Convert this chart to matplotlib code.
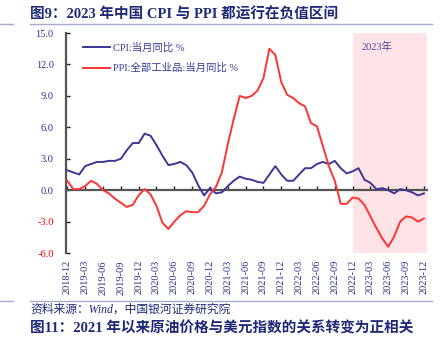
import numpy as np
import pandas as pd
import matplotlib
matplotlib.use("Agg")
import matplotlib.pyplot as plt
from matplotlib.lines import Line2D

plt.rcParams['font.family'] = ['Liberation Serif', 'Noto Sans CJK SC']

# monthly data, 2018-12 .. 2023-12
months = pd.date_range("2018-12-01", periods=61, freq="MS").strftime("%Y-%m").tolist()
cpi = [1.9,
       1.7, 1.5, 2.3, 2.5, 2.7, 2.7, 2.8, 2.8, 3.0, 3.8, 4.5, 4.5,
       5.4, 5.2, 4.3, 3.3, 2.4, 2.5, 2.7, 2.4, 1.7, 0.5, -0.5, 0.2,
       -0.3, -0.2, 0.4, 0.9, 1.3, 1.1, 1.0, 0.8, 0.7, 1.5, 2.3, 1.5,
       0.9, 0.9, 1.5, 2.1, 2.1, 2.5, 2.7, 2.5, 2.8, 2.1, 1.6, 1.8,
       2.1, 1.0, 0.7, 0.1, 0.2, 0.0, -0.3, 0.1, 0.0, -0.2, -0.5, -0.3]
ppi = [0.9,
       0.1, 0.1, 0.4, 0.9, 0.6, 0.0, -0.3, -0.8, -1.2, -1.6, -1.4, -0.5,
       0.1, -0.4, -1.5, -3.1, -3.7, -3.0, -2.4, -2.0, -2.1, -2.1, -1.5, -0.4,
       0.3, 1.7, 4.4, 6.8, 9.0, 8.8, 9.0, 9.5, 10.7, 13.5, 12.9, 10.3,
       9.1, 8.8, 8.3, 8.0, 6.4, 6.1, 4.2, 2.3, 0.9, -1.3, -1.3, -0.7,
       -0.8, -1.4, -2.5, -3.6, -4.6, -5.4, -4.4, -3.0, -2.5, -2.6, -3.0, -2.7]
yticks = [15, 12, 9, 6, 3, 0, -3, -6]
shade_start = "2022-12"

navy = "#2E2F8E"
cpi_color = "#3F3597"
ppi_color = "#FF3333"
gray = "#555555"

fig = plt.figure(figsize=(4.41, 3.37), dpi=100)
ax = fig.add_axes([0.150, 0.249, 0.818, 0.653])

x = np.arange(len(months))
ax.axvspan(months.index(shade_start), len(months) - 0.5, color="#FFE3E6", lw=0, zorder=0)
ax.plot(x, cpi, color=cpi_color, lw=1.4, label="CPI:当月同比 %", zorder=3)
ax.plot(x, ppi, color=ppi_color, lw=1.4, label="PPI:全部工业品:当月同比 %", zorder=3)

ax.set_xlim(-0.2, len(months) - 0.5)
ax.set_ylim(-6, 15)

# zero line with small upward ticks
ax.spines['bottom'].set_position(('data', 0))
ax.spines['bottom'].set_color(gray)
ax.spines['bottom'].set_linewidth(1.6)
ax.spines['left'].set_color(gray)
ax.spines['left'].set_linewidth(1.6)
ax.spines['top'].set_visible(False)
ax.spines['right'].set_visible(False)
tick_pos = x[::3]
ax.set_xticks(tick_pos)
ax.tick_params(axis='x', direction='in', length=3, width=1, color="#222222", labelbottom=False)

sec = ax.secondary_xaxis('bottom')
sec.set_xticks(tick_pos)
sec.set_xticklabels([months[i] for i in tick_pos], rotation=90, color=navy, fontsize=7.5)
sec.tick_params(length=0, pad=5)
sec.spines['bottom'].set_visible(False)

ax.set_yticks(yticks)
ax.set_yticklabels([f"{v:.1f}" for v in yticks], fontsize=7.5)
for lab, v in zip(ax.get_yticklabels(), yticks):
    lab.set_color("#FF0000" if v < 0 else navy)
ax.tick_params(axis='y', direction='in', length=3, width=1, color="#222222", pad=9)

leg = ax.legend(loc="upper left", frameon=False, fontsize=7.5, bbox_to_anchor=(0.02, 1.0),
                handlelength=2.6, handletextpad=0.3, labelspacing=1.0)
for t in leg.get_texts():
    t.set_color("#3A3A9A")

ax.text(months.index(shade_start) + 1.5, 13.7, "2023年", color="#4A4A9E", fontsize=7.5, va="center")

# header / footer
fig.text(0.068, 0.957, "图9：2023 年中国 CPI 与 PPI 都运行在负值区间", fontsize=10.5,
         fontweight="bold", color="#1E2A78", va="center")
fig.add_artist(Line2D([0.068, 0.98], [0.929, 0.929], color="#A8A8D4", lw=1))
fig.add_artist(Line2D([0.0, 0.03], [0.929, 0.929], color="#A8A8D4", lw=1))
fig.add_artist(Line2D([0.068, 0.98], [0.107, 0.107], color="#A8A8D4", lw=1))
fig.add_artist(Line2D([0.0, 0.03], [0.107, 0.107], color="#A8A8D4", lw=1))
fig.text(0.068, 0.080, "资料来源：Wind，中国银河证券研究院", fontsize=8.5, style="italic",
         color="#1E2A78", va="center")
fig.text(0.068, 0.024, "图11：2021 年以来原油价格与美元指数的关系转变为正相关", fontsize=10.5,
         fontweight="bold", color="#1E2A78", va="center")

fig.savefig("out.png", dpi=100)
